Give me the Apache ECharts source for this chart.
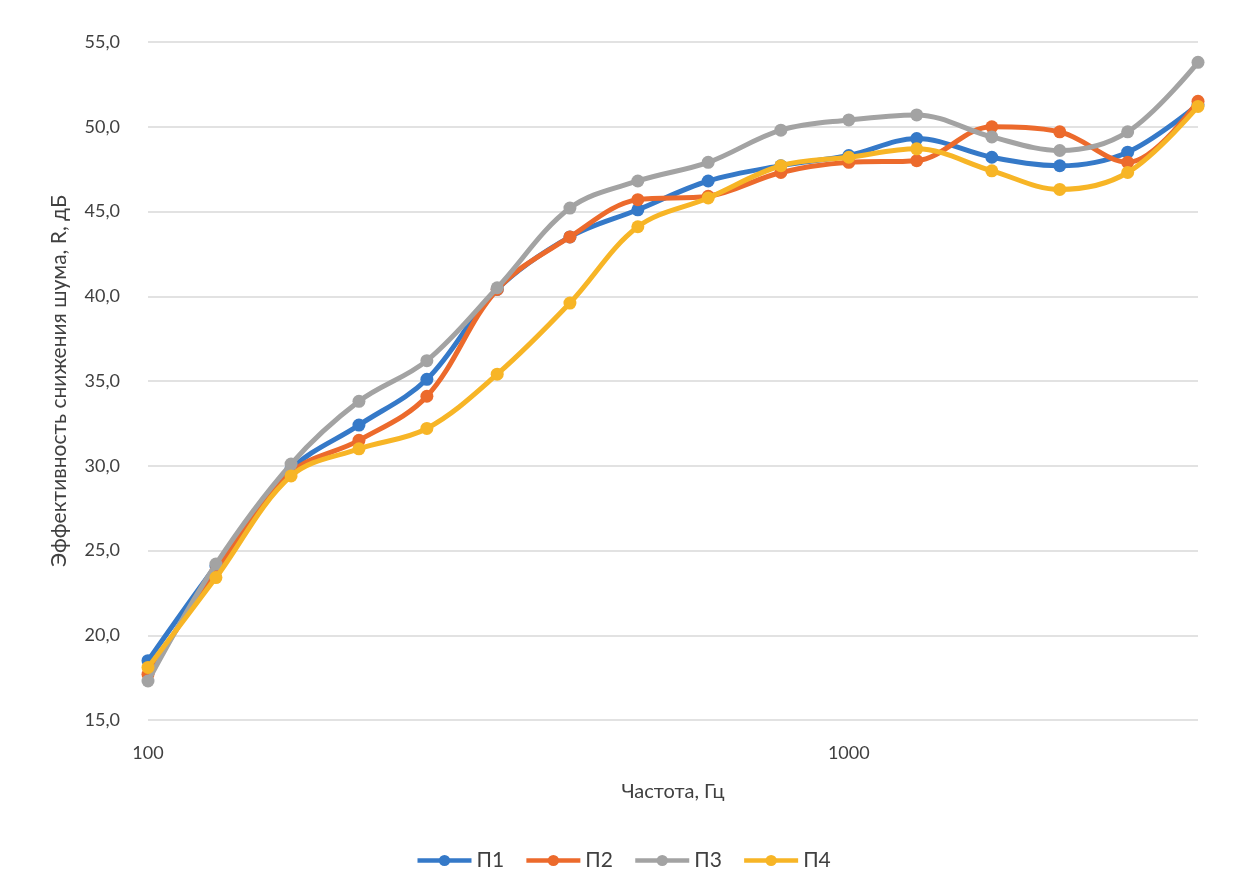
<!DOCTYPE html>
<html>
<head>
<meta charset="utf-8">
<script src="https://cdn.jsdelivr.net/npm/echarts@6/dist/echarts.min.js"></script>
<style>
html,body{margin:0;padding:0;background:#fff;}
#c{width:1246px;height:894px;}
</style>
</head>
<body>
<div id="c"></div>
<script>
const freqs = [100, 125, 160, 200, 250, 315, 400, 500, 630, 800, 1000, 1250, 1600, 2000, 2500, 3150];
const p1 = [18.5, 24.1, 29.8, 32.4, 35.1, 40.4, 43.5, 45.1, 46.8, 47.7, 48.3, 49.3, 48.2, 47.7, 48.5, 51.3];
const p2 = [17.7, 23.8, 29.6, 31.5, 34.1, 40.4, 43.5, 45.7, 45.9, 47.3, 47.9, 48.0, 50.0, 49.7, 47.9, 51.5];
const p3 = [17.3, 24.2, 30.1, 33.8, 36.2, 40.5, 45.2, 46.8, 47.9, 49.8, 50.4, 50.7, 49.4, 48.6, 49.7, 53.8];
const p4 = [18.1, 23.4, 29.4, 31.0, 32.2, 35.4, 39.6, 44.1, 45.8, 47.7, 48.2, 48.7, 47.4, 46.3, 47.3, 51.2];
const seriesNames = ['П1', 'П2', 'П3', 'П4'];
const seriesData = [p1, p2, p3, p4];
const colors = ['#3579C8', '#EC6A2C', '#A3A3A3', '#F7B526'];
const xTitle = 'Частота, Гц';
const yTitle = 'Эффективность снижения шума, R, дБ';

const chart = echarts.init(document.getElementById('c'), null, {renderer: 'canvas'});
const font = 'Lato, "Open Sans", sans-serif';
chart.setOption({
  backgroundColor: '#ffffff',
  color: colors,
  textStyle: {fontFamily: font},
  grid: {left: 148, right: 48, top: 42, bottom: 174, containLabel: false},
  legend: {
    bottom: 18,
    left: 'center',
    itemWidth: 54,
    itemHeight: 14,
    itemGap: 20,
    lineStyle: {width: 4.5},
    textStyle: {fontSize: 21, color: '#404040', fontFamily: font},
    data: seriesNames
  },
  xAxis: {
    type: 'log',
    logBase: 10,
    min: 100,
    max: 3150,
    name: xTitle,
    nameLocation: 'middle',
    nameGap: 62,
    nameTextStyle: {fontSize: 20, color: '#404040', fontFamily: font},
    axisLine: {show: false},
    axisTick: {show: false},
    splitLine: {show: false},
    minorSplitLine: {show: false},
    axisLabel: {
      fontSize: 18,
      color: '#404040',
      margin: 24,
      showMaxLabel: false,
      formatter: function (v) {
        const l = Math.log10(v);
        if (Math.abs(l - Math.round(l)) < 1e-6) return String(Math.round(v));
        return '';
      }
    }
  },
  yAxis: {
    type: 'value',
    min: 15,
    max: 55,
    interval: 5,
    name: yTitle,
    nameLocation: 'middle',
    nameGap: 78,
    nameTextStyle: {fontSize: 21, color: '#404040', fontFamily: font},
    axisLine: {show: false},
    axisTick: {show: false},
    splitLine: {show: true, lineStyle: {color: '#d9d9d9', width: 1.5}},
    axisLabel: {
      fontSize: 18,
      color: '#404040',
      margin: 28,
      formatter: function (v) { return v.toFixed(1).replace('.', ','); }
    }
  },
  series: seriesNames.map(function (name, i) {
    return {
      name: name,
      type: 'line',
      smooth: 0.35,
      symbol: 'circle',
      symbolSize: 13,
      lineStyle: {width: 5, color: colors[i]},
      itemStyle: {color: colors[i]},
      data: freqs.map(function (f, j) { return [f, seriesData[i][j]]; }),
      z: 2 + i
    };
  })
});
</script>
</body>
</html>
